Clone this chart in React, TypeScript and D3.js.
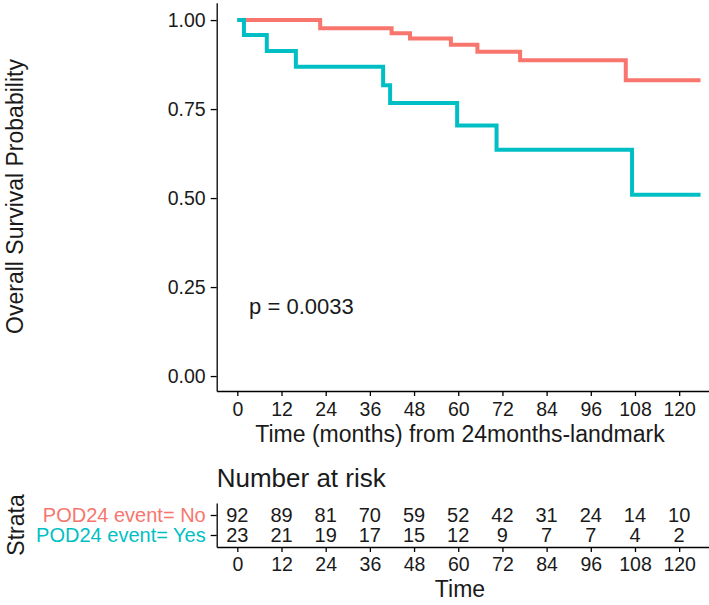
import React, { useEffect, useRef } from 'react';
import * as d3 from 'd3';

// KM steps (time in months, survival)
const noTimes = [0, 22.5, 41.9, 46.9, 58.0, 65.2, 76.8, 105.5, 125.8];
const noSurv = [1.0, 0.977, 0.963, 0.948, 0.931, 0.911, 0.887, 0.831, 0.831];
const yesTimes = [0, 1.8, 8.0, 15.9, 39.6, 41.5, 59.7, 70.4, 107.2, 125.8];
const yesSurv = [1.0, 0.958, 0.913, 0.869, 0.817, 0.767, 0.704, 0.636, 0.509, 0.509];

const strata = ['POD24 event= No', 'POD24 event= Yes'];
const colors = ['#F8766D', '#00BFC4'];

const riskTimes = [0, 12, 24, 36, 48, 60, 72, 84, 96, 108, 120];
const riskNo = [92, 89, 81, 70, 59, 52, 42, 31, 24, 14, 10];
const riskYes = [23, 21, 19, 17, 15, 12, 9, 7, 7, 4, 2];

const yTicks = [0, 0.25, 0.5, 0.75, 1.0];
const pLabel = 'p = 0.0033';

const FONT = '"Liberation Sans", Arial, sans-serif';

export default function App() {
  const svgRef = useRef<SVGSVGElement>(null);

  useEffect(() => {
    if (!svgRef.current) return;
    const svg = d3.select(svgRef.current);
    svg.selectAll('*').remove();

    const x = d3.scaleLinear().domain([-5.6, 128.1]).range([216.7, 709]);
    const y = d3.scaleLinear().domain([-0.042, 1.0488]).range([391, 2.7]);

    // survival curves
    const line = d3.line<[number, number]>()
      .x(d => x(d[0]))
      .y(d => y(d[1]))
      .curve(d3.curveStepAfter);

    const series = [
      d3.zip(noTimes, noSurv) as [number, number][],
      d3.zip(yesTimes, yesSurv) as [number, number][],
    ];
    series.forEach((s, i) => {
      svg.append('path')
        .attr('d', line(s))
        .attr('fill', 'none')
        .attr('stroke', colors[i])
        .attr('stroke-width', 4);
    });

    const styleAxis = (g: any, size: number) => {
      g.selectAll('.domain').attr('stroke', '#000').attr('stroke-width', 1.3);
      g.selectAll('.tick line').attr('stroke', '#000').attr('stroke-width', 1.3);
      g.selectAll('.tick text')
        .attr('fill', '#1a1a1a')
        .style('font-size', `${size}px`)
        .style('font-family', FONT);
      g.attr('font-family', null).attr('font-size', null);
    };

    // y axis
    const gy = svg.append('g')
      .attr('transform', `translate(${x.range()[0]},0)`)
      .call(d3.axisLeft(y).tickValues(yTicks).tickFormat(d3.format('.2f')).tickSize(6).tickSizeOuter(0).tickPadding(5));
    styleAxis(gy, 19.5);

    // x axis
    const gx = svg.append('g')
      .attr('transform', `translate(0,${y.range()[0]})`)
      .call(d3.axisBottom(x).tickValues(riskTimes).tickSize(5).tickSizeOuter(0).tickPadding(6));
    styleAxis(gx, 19.5);

    // p value
    svg.append('text')
      .attr('x', x(3.2))
      .attr('y', y(0.175))
      .style('font-size', '22px')
      .style('font-family', FONT)
      .attr('fill', '#1a1a1a')
      .text(pLabel);

    // axis titles
    svg.append('text')
      .attr('transform', `translate(23,196.5) rotate(-90)`)
      .attr('text-anchor', 'middle')
      .style('font-size', '23px')
      .style('font-family', FONT)
      .attr('fill', '#1a1a1a')
      .text('Overall Survival Probability');

    svg.append('text')
      .attr('x', 460)
      .attr('y', 441.7)
      .attr('text-anchor', 'middle')
      .style('font-size', '23px')
      .style('font-family', FONT)
      .attr('fill', '#1a1a1a')
      .text('Time (months) from 24months-landmark');

    // risk table
    svg.append('text')
      .attr('x', 216.7)
      .attr('y', 487)
      .style('font-size', '26px')
      .style('font-family', FONT)
      .attr('fill', '#1a1a1a')
      .text('Number at risk');

    const yr = d3.scaleLinear().domain([0.4, 2.6]).range([547, 503]);
    const rowPos = [2, 1];

    const gry = svg.append('g')
      .attr('transform', `translate(${x.range()[0]},0)`)
      .call(d3.axisLeft(yr).tickValues(rowPos).tickFormat((_d: any, i: number) => strata[i]).tickSize(6).tickSizeOuter(0).tickPadding(5));
    styleAxis(gry, 20);
    gry.selectAll('.tick text').attr('fill', (_d: any, i: number) => colors[i]);

    const grx = svg.append('g')
      .attr('transform', `translate(0,${yr.range()[0]})`)
      .call(d3.axisBottom(x).tickValues(riskTimes).tickSize(5).tickSizeOuter(0).tickPadding(5));
    styleAxis(grx, 19.5);

    [riskNo, riskYes].forEach((vals, r) => {
      svg.append('g')
        .selectAll('text')
        .data(vals)
        .enter().append('text')
        .attr('x', (_d, i) => x(riskTimes[i]))
        .attr('y', yr(rowPos[r]))
        .attr('dy', '0.35em')
        .attr('text-anchor', 'middle')
        .style('font-size', '20px')
        .style('font-family', FONT)
        .attr('fill', '#1a1a1a')
        .text(d => d);
    });

    svg.append('text')
      .attr('transform', `translate(24,525) rotate(-90)`)
      .attr('text-anchor', 'middle')
      .style('font-size', '23px')
      .style('font-family', FONT)
      .attr('fill', '#1a1a1a')
      .text('Strata');

    svg.append('text')
      .attr('x', 460)
      .attr('y', 596.7)
      .attr('text-anchor', 'middle')
      .style('font-size', '23px')
      .style('font-family', FONT)
      .attr('fill', '#1a1a1a')
      .text('Time');
  }, []);

  return (
    <div style={{ position: 'absolute', left: 0, top: 0, width: 709, height: 605, background: '#fff' }}>
      <svg ref={svgRef} width={709} height={605} viewBox="0 0 709 605" style={{ display: 'block' }} />
    </div>
  );
}
